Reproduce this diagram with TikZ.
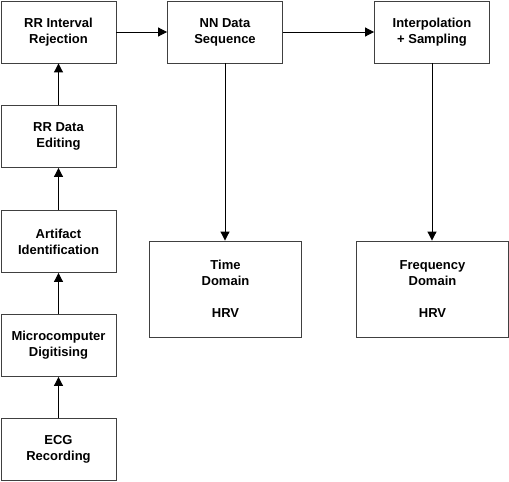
\documentclass[tikz,border=0pt]{standalone}
\usepackage{fontspec}
\setmainfont{Liberation Sans}
\usetikzlibrary{arrows.meta}
\begin{document}
\begin{tikzpicture}[x=1pt,y=-1pt,
  box/.style={draw=black!75,line width=0.9pt,minimum width=115pt,minimum height=62pt,inner sep=0pt,align=center,font=\fontsize{13}{16}\selectfont\bfseries},
  bigbox/.style={box,minimum width=152pt,minimum height=96pt},
  arr/.style={-{Triangle[length=9pt,width=9pt]},line width=1pt}]
\useasboundingbox (0,0) rectangle (509,482);
\node[box] (rej) at (58.5,32) {RR Interval\\Rejection};
\node[box] (edit) at (58.5,136.5) {RR Data\\Editing};
\node[box] (art) at (58.5,241.5) {Artifact\\Identification};
\node[box] (micro) at (58.5,345.5) {Microcomputer\\Digitising};
\node[box] (ecg) at (58.5,449.5) {ECG\\Recording};
\node[box] (nn) at (225,32) {NN Data\\Sequence};
\node[box] (interp) at (432,32) {Interpolation\\+ Sampling};
\node[bigbox] (time) at (225.5,289) {Time\\Domain\\[16pt]HRV};
\node[bigbox] (freq) at (432.5,289) {Frequency\\Domain\\[16pt]HRV};
\draw[arr] (ecg) -- (micro);
\draw[arr] (micro) -- (art);
\draw[arr] (art) -- (edit);
\draw[arr] (edit) -- (rej);
\draw[arr] (rej) -- (nn);
\draw[arr] (nn) -- (interp);
\draw[arr] (nn.south) -- (nn.south |- time.north);
\draw[arr] (interp.south) -- (interp.south |- freq.north);
\end{tikzpicture}
\end{document}
